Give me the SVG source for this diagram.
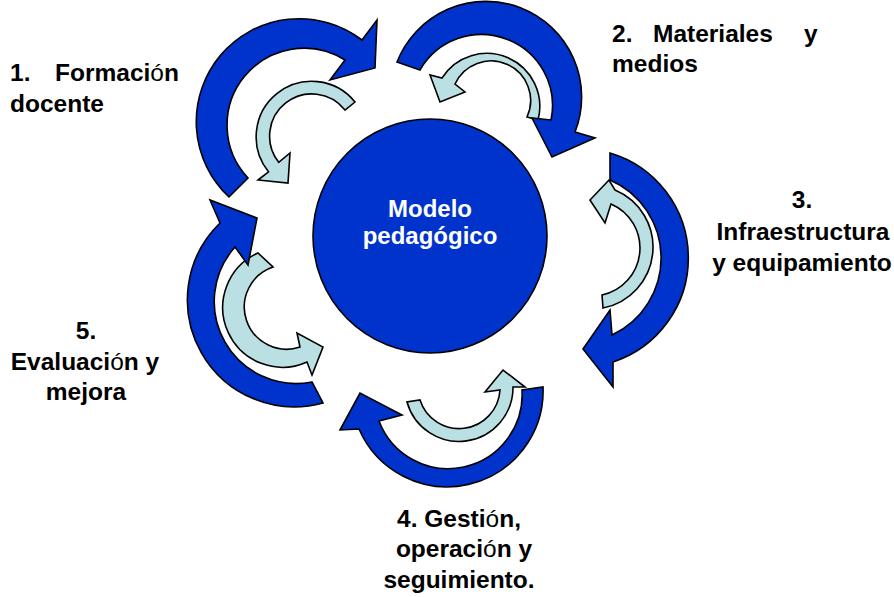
<svg xmlns="http://www.w3.org/2000/svg" width="894" height="597" viewBox="0 0 894 597">
<style>
.blue{fill:#0033CC;stroke:#000;stroke-width:1.6;stroke-linejoin:miter}
.light{fill:#BBE0E3;stroke:#000;stroke-width:1.6;stroke-linejoin:miter}
.lbl{font-family:"Liberation Sans",Arial,sans-serif;font-weight:bold;font-size:24.5px;fill:#000}
.ctr{font-family:"Liberation Sans",Arial,sans-serif;font-weight:bold;font-size:24px;fill:#fff;text-anchor:middle}
.mid{text-anchor:middle}
.thin{font-weight:normal}
</style>
<rect width="894" height="597" fill="#fff"/>
<g id="connectors">
  <path class="light" d="M355,102 A54,54 0 1 0 268.5,171.8 L258,180 L288,183 L290,153 L278.7,162.3 A40,40 0 1 1 345,110 Z"/>
  <path class="light" d="M538,120 A53,53 0 0 0 442,78 L430,75 L440,102 L465,92 L455,84 A38.5,38.5 0 0 1 527,117 Z"/>
  <path class="light" d="M603,308 A62,62 0 0 0 615,190 L609,180 L590,200 L605,223 L611,204 A48,48 0 0 1 602,295 Z"/>
  <path class="light" d="M407,402 A54,54 0 0 0 513,387 L525,387 L503,370 L485,392 L500,390 A41,41 0 0 1 420,400 Z"/>
  <path class="light" d="M258,253 A57,57 0 0 0 307,362 L312,375 L323,347 L297,333 L300,347 A42,42 0 0 1 273,267 Z"/>
  <path class="blue" d="M229,197 A103,103 0 0 1 362,40 L377,20 L375,68 L330,80 L345,60 A77,77 0 0 0 248,178 Z"/>
  <path class="blue" d="M397,62 A93.5,93.5 0 0 1 575,132 L595,138 L552,157 L532,118 L551,120 A71,71 0 0 0 420,70 Z"/>
  <path class="blue" d="M610,153 A109.5,109.5 0 0 1 613,362 L613,387 L583,349 L610,310 L612,335 A85,85 0 0 0 610,180 Z"/>
  <path class="blue" d="M543,387 A96,96 0 0 1 359,429 L340,430 L360,393 L402,415 L379,421 A74,74 0 0 0 522,390 Z"/>
  <path class="blue" d="M323,403 A107,107 0 0 1 220,223 L210,200 L257,218 L248,265 L235,247 A82,82 0 0 0 312,382 Z"/>
</g>
<g id="node-center">
  <circle cx="430" cy="236" r="117" fill="#0033CC" stroke="#000" stroke-width="1.6"/>
  <text class="ctr" x="430" y="217">Modelo</text>
  <text class="ctr" x="430" y="244">pedagógico</text>
</g>
<g id="node-1">
  <text class="lbl" y="81"><tspan x="10">1.</tspan><tspan x="55">Formaci</tspan><tspan class="thin">ó</tspan><tspan>n</tspan></text>
  <text class="lbl" x="10" y="112">docente</text>
</g>
<g id="node-2">
  <text class="lbl" y="42"><tspan x="612">2.</tspan><tspan x="653">Materiales</tspan><tspan x="804">y</tspan></text>
  <text class="lbl" x="612" y="72">medios</text>
</g>
<g id="node-3">
  <text class="lbl mid" x="802" y="208">3.</text>
  <text class="lbl mid" x="803" y="240">Infraestructura</text>
  <text class="lbl mid" x="802" y="271">y equipamiento</text>
</g>
<g id="node-4">
  <text class="lbl mid" x="459" y="527">4. Gesti<tspan class="thin">ó</tspan>n,</text>
  <text class="lbl mid" x="464" y="557">operaci<tspan class="thin">ó</tspan>n y</text>
  <text class="lbl mid" x="459" y="588">seguimiento.</text>
</g>
<g id="node-5">
  <text class="lbl mid" x="86" y="339">5.</text>
  <text class="lbl mid" x="85" y="370">Evaluaci<tspan class="thin">ó</tspan>n y</text>
  <text class="lbl mid" x="86" y="400">mejora</text>
</g>
</svg>
